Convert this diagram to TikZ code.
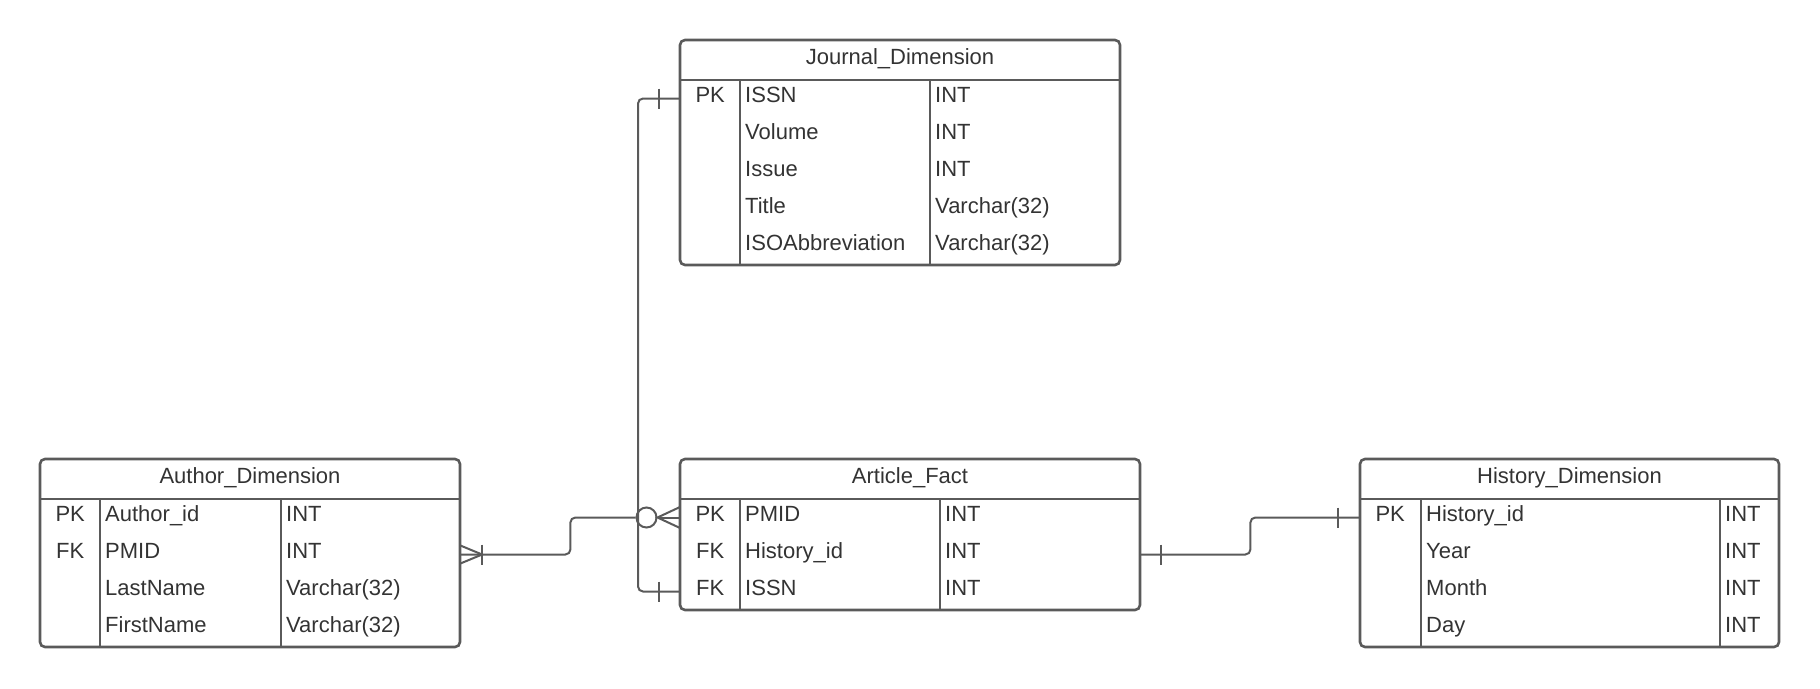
\documentclass[tikz,border=0pt]{standalone}
\usepackage{fontspec}
\setmainfont{Liberation Sans}
\usepackage{tikz}
\usetikzlibrary{calc, positioning}

\definecolor{linegray}{HTML}{5A5A5A}
\definecolor{textgray}{HTML}{333333}

\begin{document}
\begin{tikzpicture}[x=1pt, y=-1pt,
        font=\fontsize{22}{26}\selectfont, text=textgray,
        tablebox/.style={draw=linegray, line width=2.6pt, rounded corners=5pt},
        tableline/.style={draw=linegray, line width=2.6pt},
        conn/.style={draw=linegray, line width=2pt, rounded corners=5pt},
        tick/.style={draw=linegray, line width=2pt},
        zerocirc/.style={circle, draw=linegray, line width=2pt, minimum size=20pt, inner sep=0pt},
        title/.style={text height=15pt, text depth=7pt},
        keycell/.style={anchor=west, minimum width=60pt, minimum height=37pt, inner sep=0pt, text height=15pt, text depth=7pt},
        namecell/.style={anchor=west, inner xsep=5pt, inner ysep=0pt, text height=15pt, text depth=7pt},
        typecell/.style={anchor=west, inner xsep=5pt, inner ysep=0pt, minimum height=37pt, align=left, text height=15pt, text depth=7pt}]
        \useasboundingbox (0,0) rectangle (1820,688);

        % Journal_Dimension
        \draw[tablebox] (680,40) rectangle (1120,265);
        \draw[tableline] (680,80) -- (1120,80);
        \draw[tableline] (740,80) -- (740,265);
        \draw[tableline] (930,80) -- (930,265);
        \node[title] (jtitle) at (900,60) {Journal\_Dimension};
        \foreach \k/\n/\t [count=\i] in {PK/ISSN/INT, /Volume/INT, /Issue/INT, /Title/Varchar(32), /ISOAbbreviation/Varchar(32)} {
            \node[keycell] (jk\i) at (680,61.5+37*\i) {\k};
            \node[namecell] (jn\i) at (740,61.5+37*\i) {\n};
            \node[typecell, text width=180pt] (jt\i) at (930,61.5+37*\i) {\t};
        }

        % Author_Dimension
        \draw[tablebox] (40,459) rectangle (460,647);
        \draw[tableline] (40,499) -- (460,499);
        \draw[tableline] (100,499) -- (100,647);
        \draw[tableline] (281,499) -- (281,647);
        \node[title] (atitle) at (250,479) {Author\_Dimension};
        \foreach \k/\n/\t [count=\i] in {PK/Author\_id/INT, FK/PMID/INT, /LastName/Varchar(32), /FirstName/Varchar(32)} {
            \node[keycell] (ak\i) at (40,480.5+37*\i) {\k};
            \node[namecell] (an\i) at (100,480.5+37*\i) {\n};
            \node[typecell, text width=169pt] (at\i) at (281,480.5+37*\i) {\t};
        }

        % Article_Fact
        \draw[tablebox] (680,459) rectangle (1140,610);
        \draw[tableline] (680,499) -- (1140,499);
        \draw[tableline] (740,499) -- (740,610);
        \draw[tableline] (940,499) -- (940,610);
        \node[title] (ftitle) at (910,479) {Article\_Fact};
        \foreach \k/\n/\t [count=\i] in {PK/PMID/INT, FK/History\_id/INT, FK/ISSN/INT} {
            \node[keycell] (fk\i) at (680,480.5+37*\i) {\k};
            \node[namecell] (fn\i) at (740,480.5+37*\i) {\n};
            \node[typecell, text width=190pt] (ft\i) at (940,480.5+37*\i) {\t};
        }

        % History_Dimension
        \draw[tablebox] (1360,459) rectangle (1779,647);
        \draw[tableline] (1360,499) -- (1779,499);
        \draw[tableline] (1421,499) -- (1421,647);
        \draw[tableline] (1720,499) -- (1720,647);
        \node[title] (htitle) at (1569.5,479) {History\_Dimension};
        \foreach \k/\n/\t [count=\i] in {PK/History\_id/INT, /Year/INT, /Month/INT, /Day/INT} {
            \node[keycell] (hk\i) at (1360,480.5+37*\i) {\k};
            \node[namecell] (hn\i) at (1421,480.5+37*\i) {\n};
            \node[typecell, text width=49pt] (ht\i) at (1720,480.5+37*\i) {\t};
        }

        % Journal -- Article (ISSN)
        \draw[conn] (jk1.west) -- ++(-42,0) |- (fk3.west);
        \draw[tick] ($(jk1.west)+(-21,-10)$) -- ++(0,20);
        \draw[tick] ($(fk3.west)+(-21,-10)$) -- ++(0,20);

        % Author -- Article (PMID)
        \node[zerocirc, left=22.5pt of fk1.west] (zc) {};
        \draw[conn] (at2.east) -- ++(110,0) |- (zc.west);
        \draw[tick] ($(fk1.west)+(0,-10.5)$) -- (zc.east) -- ($(fk1.west)+(0,10.5)$);
        \draw[tick] (zc.east) -- (fk1.west);
        \draw[tick] ($(at2.east)+(0,-9)$) -- ($(at2.east)+(21.7,0)$) -- ($(at2.east)+(0,9)$);
        \draw[tick] ($(at2.east)+(21.7,-10)$) -- ++(0,20);

        % Article -- History (History_id)
        \draw[conn] (ft2.east) -- ++(110,0) |- (hk1.west);
        \draw[tick] ($(ft2.east)+(21,-10)$) -- ++(0,20);
        \draw[tick] ($(hk1.west)+(-22,-10)$) -- ++(0,20);
    \end{tikzpicture}
\end{document}
